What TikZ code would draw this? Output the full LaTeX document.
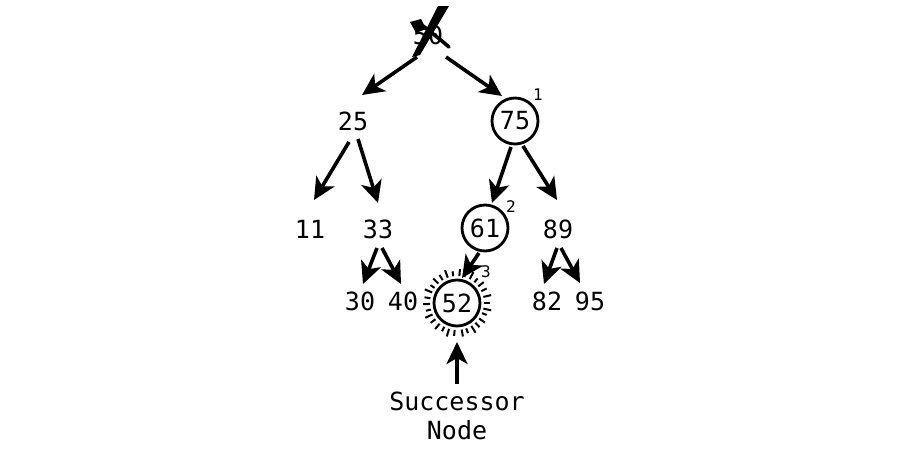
\documentclass[tikz,border=0pt]{standalone}
\usepackage{fontspec}
\setmainfont{DejaVu Sans Mono}
\usetikzlibrary{arrows.meta,calc}
\begin{document}
\begin{tikzpicture}[x=1pt,y=-1pt,
  num/.style={circle,minimum size=44pt,inner sep=0pt,font=\fontsize{25}{29}\selectfont},
  ring/.style={num,draw,line width=2.8pt,minimum size=46pt},
  sup/.style={font=\fontsize{16}{18}\selectfont,inner sep=0pt},
  arr/.style={line width=3.6pt,-{Stealth[length=22pt,width=21pt,inset=6pt]}}
]
\useasboundingbox (0,0) rectangle (900,448);
% nodes
\node[num] (n50) at (428,35) {50};
\node[num] (n25) at (353,121) {25};
\node[ring] (n75) at (515,121) {75};
\node[num] (n11) at (310,229) {11};
\node[num] (n33) at (378,229) {33};
\node[ring] (n61) at (485,228) {61};
\node[num] (n89) at (558,229) {89};
\node[num] (n30) at (360,301) {30};
\node[num] (n40) at (403,301) {40};
\node[ring] (n52) at (457,303) {52};
\node[num] (n82) at (547,301) {82};
\node[num] (n95) at (590,301) {95};
\node[sup] (s1) at (538,95) {1};
\node[sup] (s2) at (511,207) {2};
\node[sup] (s3) at (486,272) {3};
\node[font=\fontsize{25}{29}\selectfont,align=center,anchor=north,inner sep=0pt] (succ) at (457,392) {Successor\\Node};
\coordinate (tail) at (457,384);
% cross-out over 50
\fill (412,57) -- (420,55) -- (449,6) -- (438,6) -- cycle;
\draw[line width=3.6pt,line cap=round] (423,26) .. controls (432,33) and (441,40) .. (449,47);
\fill (410,22) -- (421,19) -- (426,29) -- (416,33) -- cycle;
% sunburst around 52
\foreach \a/\l in {0/6,12/8,22/5,35/7,47/6,58/8,70/5,80/7,95/6,107/8,118/5,130/7,143/6,155/8,166/5,178/7,190/6,203/8,214/5,226/7,238/6,250/8,262/5,275/7,286/6,298/8,310/5,322/7,334/6,347/8}{
  \draw[line width=2pt] (n52.center) ++(\a:27) -- ++(\a:\l);
}
% edges
\draw[arr] ($(n50)+(-11,22)$) -- ($(n25)+(9,-26)$);
\draw[arr] ($(n50)+(18,22)$) -- ($(n75)+(-13,-25)$);
\draw[arr] ($(n25)+(-4,21)$) -- ($(n11)+(4,-29)$);
\draw[arr] ($(n25)+(5,18)$) -- ($(n33)+(0,-26)$);
\draw[arr] ($(n75)+(-4,26)$) -- ($(n61)+(7,-25)$);
\draw[arr] ($(n75)+(8,25)$) -- ($(n89)+(-1,-29)$);
\draw[arr] ($(n61)+(-6,25)$) -- ($(n52)+(5,-25)$);
\draw[arr] ($(n33)+(-1,19)$) -- ($(n30)+(3,-17)$);
\draw[arr] ($(n33)+(4,19)$) -- ($(n40)+(-2,-17)$);
\draw[arr] ($(n89)+(-1,19)$) -- ($(n82)+(-3,-17)$);
\draw[arr] ($(n89)+(3,19)$) -- ($(n95)+(-10,-18)$);
\draw[arr] (tail) -- ($(n52)+(0,39)$);
\end{tikzpicture}
\end{document}
